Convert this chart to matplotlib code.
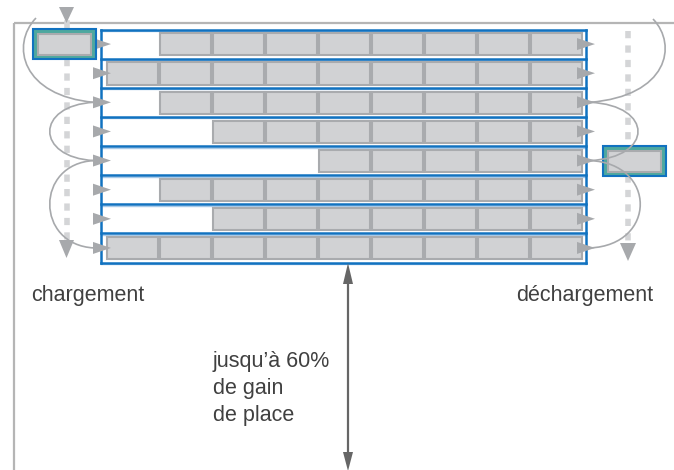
import matplotlib
matplotlib.use("Agg")
import matplotlib.pyplot as plt
from matplotlib.patches import Rectangle, Polygon, PathPatch
from matplotlib.path import Path

# ---- data ----
row_counts = [8, 9, 8, 7, 5, 8, 7, 9]   # pallets per lane (right-aligned)
n_cols = 9
label_left = "chargement"
label_right = "déchargement"
gain_lines = ["jusqu’à 60%", "de gain", "de place"]

# ---- style ----
BLUE = "#1172c0"
LBLUE = "#a9cbe9"
BOX_FC = "#d1d2d4"
BOX_EC = "#a9abae"
TEAL = "#4ea89f"
ARROW = "#a7a9ac"
DASH = "#d4d5d7"
FRAME = "#b5b5b5"
TXT = "#404040"
FONT = ["Liberation Sans", "DejaVu Sans"]

W, H = 674, 470
fig = plt.figure(figsize=(W / 100, H / 100), dpi=100)
ax = fig.add_axes([0, 0, 1, 1])
ax.set_xlim(0, W)
ax.set_ylim(H, 0)
ax.axis("off")

# geometry of the rack
x0, x1 = 101, 586
y0 = 29.5
row_h = (262.5 - 29.5) / len(row_counts)
col0 = 107
pitch = (584 - 107) / n_cols
bw = pitch - 2.3

# frame
ax.plot([14, W], [22.5, 22.5], color=FRAME, lw=1.6, zorder=1, solid_capstyle="butt")
ax.plot([14, 14], [22.5, H], color=FRAME, lw=1.6, zorder=1, solid_capstyle="butt")

# dashed guide lines
ax.plot([66.5, 66.5], [59, 244], color=DASH, lw=4, ls=(0, (1.3, 1.3)), zorder=1)
ax.plot([66.5, 66.5], [23, 28], color=DASH, lw=4, zorder=1)
ax.plot([628, 628], [31, 246], color=DASH, lw=4, ls=(0, (1.3, 1.3)), zorder=1)

# rack rows
for i, n in enumerate(row_counts):
    top = y0 + i * row_h
    for c in range(n_cols - n, n_cols):
        ax.add_patch(Rectangle((col0 + c * pitch, top + 3.8), bw, row_h - 7,
                               fc=BOX_FC, ec=BOX_EC, lw=1.5, zorder=3))
for i in range(len(row_counts) + 1):
    y = y0 + i * row_h
    ax.plot([x0, x1], [y + 1.6, y + 1.6], color=LBLUE, lw=1.0, zorder=2)
    ax.plot([x0, x1], [y, y], color=BLUE, lw=1.8, zorder=4)
ax.plot([x0, x0], [y0, y0 + len(row_counts) * row_h], color=BLUE, lw=1.8, zorder=4)
ax.plot([x1, x1], [y0, y0 + len(row_counts) * row_h], color=BLUE, lw=1.8, zorder=4)

# lane arrows
for i in range(len(row_counts)):
    cy = y0 + (i + 0.5) * row_h
    ax.add_patch(Polygon([(93, cy - 6), (93, cy + 6), (111, cy)], closed=True,
                         fc=ARROW, ec="none", zorder=5))
    ax.add_patch(Polygon([(577, cy - 6), (577, cy + 6), (595, cy)], closed=True,
                         fc=ARROW, ec="none", zorder=5))

# loading / unloading shuttle blocks
def shuttle(x, y):
    ax.add_patch(Rectangle((x, y), 63, 30, fc=TEAL, ec=BLUE, lw=1.5, zorder=6))
    ax.add_patch(Rectangle((x + 5, y + 4.5), 53, 21, fc=BOX_FC, ec=BOX_EC, lw=1.5, zorder=7))

shuttle(33, 29)
shuttle(603, 146)

# triangles on guide lines
ax.add_patch(Polygon([(59, 7), (74, 7), (66.5, 23)], closed=True, fc=ARROW, ec="none", zorder=5))
ax.add_patch(Polygon([(59, 240), (74, 240), (66.5, 258)], closed=True, fc=ARROW, ec="none", zorder=5))
ax.add_patch(Polygon([(620, 243), (636, 243), (628, 261)], closed=True, fc=ARROW, ec="none", zorder=5))

# curves
def curve(p0, p1, p2, p3):
    path = Path([p0, p1, p2, p3], [Path.MOVETO, Path.CURVE4, Path.CURVE4, Path.CURVE4])
    ax.add_patch(PathPatch(path, fc="none", ec=ARROW, lw=1.2, zorder=8))

rc = [y0 + (i + 0.5) * row_h for i in range(len(row_counts))]
curve((36, 18), (10, 45), (22, 96), (94, rc[2]))
curve((94, rc[2]), (35, rc[2] + 3), (35, rc[4] - 3), (94, rc[4]))
curve((94, rc[4]), (35, rc[4] + 3), (35, rc[7] - 3), (94, rc[7]))
curve((653, 19), (678, 45), (668, 96), (590, rc[2]))
curve((590, rc[2]), (654, rc[2] + 3), (654, rc[4] - 3), (590, rc[4]))
curve((590, rc[4]), (657, rc[4] + 3), (657, rc[7] - 3), (590, rc[7]))

# double arrow
ax.plot([348, 348], [280, 455], color="#666666", lw=1.6, zorder=5)
ax.add_patch(Polygon([(343, 284), (353, 284), (348, 263)], closed=True, fc="#666666", ec="none", zorder=5))
ax.add_patch(Polygon([(343, 452), (353, 452), (348, 471)], closed=True, fc="#666666", ec="none", zorder=5))

# texts
ax.text(31, 300.5, label_left, fontsize=15.5, family=FONT, color=TXT, va="baseline", ha="left")
ax.text(516, 300.5, label_right, fontsize=15.5, family=FONT, color=TXT, va="baseline", ha="left")
for k, s in enumerate(gain_lines):
    ax.text(213, 367.5 + k * 26.7, s, fontsize=15.5, family=FONT, color=TXT, va="baseline", ha="left")

fig.savefig("out.png", dpi=100)
